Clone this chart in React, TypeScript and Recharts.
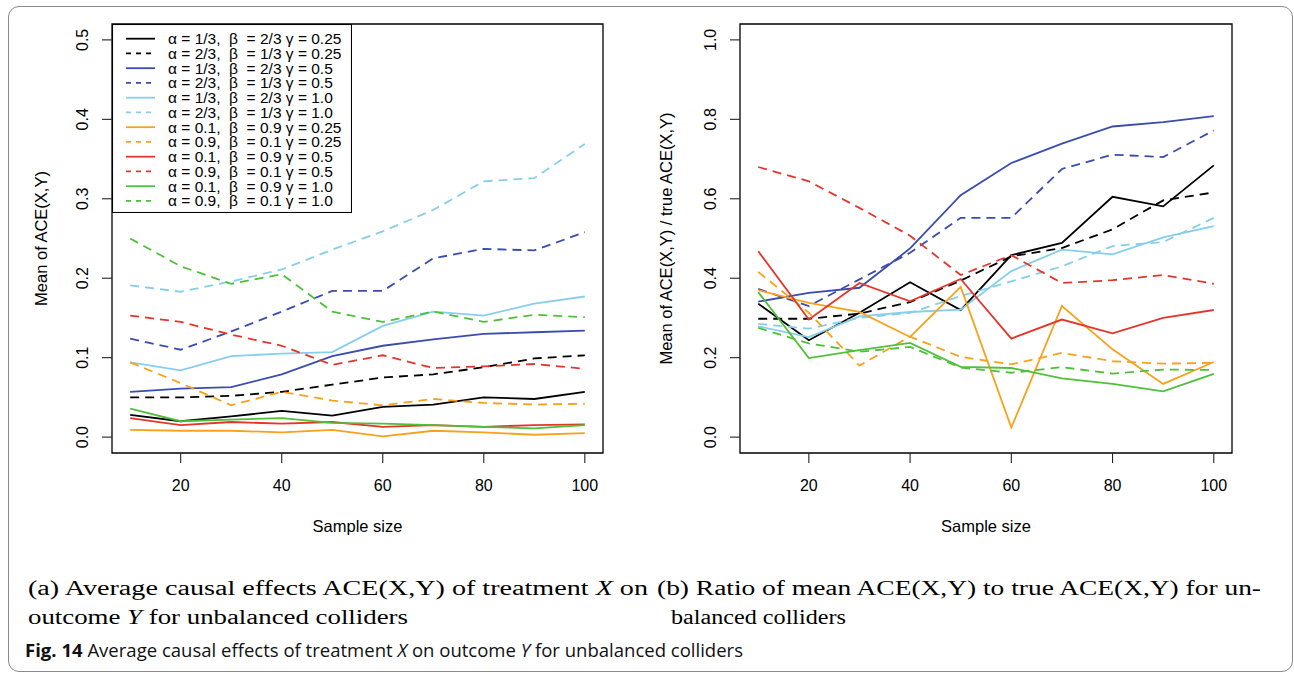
import React from "react";
import { LineChart, Line, XAxis, YAxis, Legend, ReferenceArea, Label } from "recharts";

// sample sizes on the x axis
const sampleSize = [10, 20, 30, 40, 50, 60, 70, 80, 90, 100];
const xTicks = [20, 40, 60, 80, 100];

const seriesLabels = [
  "α = 1/3,  β  = 2/3 γ = 0.25",
  "α = 2/3,  β  = 1/3 γ = 0.25",
  "α = 1/3,  β  = 2/3 γ = 0.5",
  "α = 2/3,  β  = 1/3 γ = 0.5",
  "α = 1/3,  β  = 2/3 γ = 1.0",
  "α = 2/3,  β  = 1/3 γ = 1.0",
  "α = 0.1,  β  = 0.9 γ = 0.25",
  "α = 0.9,  β  = 0.1 γ = 0.25",
  "α = 0.1,  β  = 0.9 γ = 0.5",
  "α = 0.9,  β  = 0.1 γ = 0.5",
  "α = 0.1,  β  = 0.9 γ = 1.0",
  "α = 0.9,  β  = 0.1 γ = 1.0",
];

// (a) mean ACE(X,Y)
const aceA13G025 = [0.028, 0.02, 0.026, 0.033, 0.027, 0.038, 0.041, 0.05, 0.048, 0.057];
const aceA23G025 = [0.05, 0.05, 0.052, 0.057, 0.066, 0.075, 0.079, 0.088, 0.099, 0.103];
const aceA13G05 = [0.057, 0.061, 0.063, 0.079, 0.102, 0.115, 0.123, 0.13, 0.132, 0.134];
const aceA23G05 = [0.124, 0.11, 0.133, 0.158, 0.184, 0.184, 0.225, 0.237, 0.235, 0.258];
const aceA13G1 = [0.094, 0.084, 0.102, 0.105, 0.107, 0.14, 0.158, 0.153, 0.168, 0.177];
const aceA23G1 = [0.191, 0.183, 0.196, 0.211, 0.236, 0.259, 0.286, 0.322, 0.326, 0.369];
const aceA01G025 = [0.009, 0.008, 0.008, 0.006, 0.009, 0.001, 0.008, 0.006, 0.003, 0.005];
const aceA09G025 = [0.094, 0.068, 0.04, 0.057, 0.046, 0.04, 0.048, 0.043, 0.041, 0.042];
const aceA01G05 = [0.024, 0.015, 0.019, 0.017, 0.019, 0.013, 0.015, 0.013, 0.015, 0.016];
const aceA09G05 = [0.153, 0.145, 0.129, 0.115, 0.091, 0.103, 0.087, 0.089, 0.092, 0.086];
const aceA01G1 = [0.036, 0.02, 0.022, 0.024, 0.018, 0.017, 0.015, 0.013, 0.011, 0.015];
const aceA09G1 = [0.25, 0.215, 0.193, 0.205, 0.158, 0.145, 0.158, 0.145, 0.154, 0.151];

// (b) mean ACE(X,Y) / true ACE(X,Y)
const ratioA13G025 = [0.336, 0.244, 0.313, 0.39, 0.32, 0.458, 0.489, 0.605, 0.581, 0.684];
const ratioA23G025 = [0.298, 0.298, 0.311, 0.34, 0.394, 0.455, 0.476, 0.523, 0.596, 0.616];
const ratioA13G05 = [0.341, 0.363, 0.376, 0.475, 0.609, 0.69, 0.739, 0.782, 0.793, 0.808];
const ratioA23G05 = [0.373, 0.33, 0.397, 0.464, 0.552, 0.552, 0.675, 0.711, 0.705, 0.772];
const ratioA13G1 = [0.279, 0.252, 0.304, 0.315, 0.321, 0.418, 0.472, 0.46, 0.503, 0.531];
const ratioA23G1 = [0.285, 0.273, 0.3, 0.313, 0.355, 0.392, 0.43, 0.481, 0.491, 0.552];
const ratioA01G025 = [0.37, 0.338, 0.315, 0.252, 0.378, 0.024, 0.33, 0.221, 0.134, 0.189];
const ratioA09G025 = [0.416, 0.313, 0.18, 0.253, 0.202, 0.183, 0.212, 0.191, 0.185, 0.187];
const ratioA01G05 = [0.468, 0.296, 0.388, 0.342, 0.398, 0.248, 0.296, 0.261, 0.3, 0.32];
const ratioA09G05 = [0.68, 0.644, 0.577, 0.507, 0.408, 0.458, 0.388, 0.395, 0.408, 0.386];
const ratioA01G1 = [0.365, 0.199, 0.219, 0.237, 0.177, 0.174, 0.148, 0.134, 0.115, 0.159];
const ratioA09G1 = [0.275, 0.236, 0.215, 0.227, 0.175, 0.162, 0.176, 0.16, 0.17, 0.169];

const aceTicks = [0, 0.1, 0.2, 0.3, 0.4, 0.5];
const ratioTicks = [0, 0.2, 0.4, 0.6, 0.8, 1.0];

const SANS = "'Liberation Sans', Arial, Helvetica, sans-serif";
const SERIF = "'Liberation Serif', 'Times New Roman', serif";
const CAPTION = "'Open Sans', 'Noto Sans', sans-serif";

const BLUE = "#3a4cad";
const SKY = "#87ceeb";
const ORANGE = "#f9a11b";
const RED = "#e4352b";
const GREEN = "#4fc03a";

const lineStyles = [
  { color: "#000", dashed: false },
  { color: "#000", dashed: true },
  { color: BLUE, dashed: false },
  { color: BLUE, dashed: true },
  { color: SKY, dashed: false },
  { color: SKY, dashed: true },
  { color: ORANGE, dashed: false },
  { color: ORANGE, dashed: true },
  { color: RED, dashed: false },
  { color: RED, dashed: true },
  { color: GREEN, dashed: false },
  { color: GREEN, dashed: true },
];

const keys = seriesLabels.map((_, i) => `s${i}`);

function buildRows(series: number[][]) {
  return sampleSize.map((n, i) => {
    const row: Record<string, number> = { n };
    series.forEach((vals, j) => { row[keys[j]] = vals[i]; });
    return row;
  });
}

const aceRows = buildRows([
  aceA13G025, aceA23G025, aceA13G05, aceA23G05, aceA13G1, aceA23G1,
  aceA01G025, aceA09G025, aceA01G05, aceA09G05, aceA01G1, aceA09G1,
]);
const ratioRows = buildRows([
  ratioA13G025, ratioA23G025, ratioA13G05, ratioA23G05, ratioA13G1, ratioA23G1,
  ratioA01G025, ratioA09G025, ratioA01G05, ratioA09G05, ratioA01G1, ratioA09G1,
]);

const XTick = (p: any) => (
  <text x={p.x} y={p.y} dy={26} textAnchor="middle" fontFamily={SANS} fontSize={16} fill="#000">
    {p.payload.value}
  </text>
);

const YTick = (p: any) => {
  const x = p.x - 11.5;
  return (
    <text x={x} y={p.y} transform={`rotate(-90, ${x}, ${p.y})`} textAnchor="middle"
      fontFamily={SANS} fontSize={16} fill="#000">
      {Number(p.payload.value).toFixed(1)}
    </text>
  );
};

const renderLegend = () => (
  <svg width={240} height={189} style={{ display: "block" }}>
    <rect x={0.5} y={0.5} width={239} height={188} fill="#fff" stroke="#000" strokeWidth={1.1} />
    {seriesLabels.map((label, i) => {
      const cy = 14.7 + 14.75 * i;
      const st = lineStyles[i];
      return (
        <g key={label}>
          <line x1={14} x2={43} y1={cy} y2={cy} stroke={st.color} strokeWidth={1.8}
            strokeDasharray={st.dashed ? "5 5" : undefined} />
          <text x={56} y={cy + 5.4} fontFamily={SANS} fontSize={15.5} fill="#000" style={{ whiteSpace: "pre" }}>
            {label}
          </text>
        </g>
      );
    })}
  </svg>
);

interface PanelProps {
  rows: Record<string, number>[];
  width: number;
  right: number;
  yWidth: number;
  yDomain: [number, number];
  yTicks: number[];
  yTitle: string;
  yTitleX: number;
  legend?: boolean;
}

function Panel({ rows, width, right, yWidth, yDomain, yTicks, yTitle, yTitleX, legend }: PanelProps) {
  return (
    <LineChart width={width} height={560} data={rows} margin={{ top: 24, right, bottom: 0, left: 0 }}>
      <XAxis dataKey="n" type="number" domain={[6.4, 103.6]} ticks={xTicks} interval={0}
        axisLine={false} tickSize={10} tickLine={{ stroke: "#222", strokeWidth: 1.1 }}
        tick={(p: any) => <XTick {...p} />} height={107} allowDataOverflow>
        <Label content={(p: any) => {
          const vb = p.viewBox;
          return (
            <text x={vb.x + vb.width / 2} y={vb.y + 78.5} textAnchor="middle" fontFamily={SANS} fontSize={16.5} fill="#000">
              Sample size
            </text>
          );
        }} />
      </XAxis>
      <YAxis type="number" domain={yDomain} ticks={yTicks} interval={0} width={yWidth}
        axisLine={false} tickSize={10} tickLine={{ stroke: "#222", strokeWidth: 1.1 }}
        tick={(p: any) => <YTick {...p} />} allowDataOverflow>
        <Label content={(p: any) => {
          const vb = p.viewBox;
          const x = vb.x + yTitleX;
          const y = vb.y + vb.height / 2;
          return (
            <text x={x} y={y} transform={`rotate(-90, ${x}, ${y})`} textAnchor="middle"
              fontFamily={SANS} fontSize={16.5} fill="#000">
              {yTitle}
            </text>
          );
        }} />
      </YAxis>
      <ReferenceArea x1={6.4} x2={103.6} y1={yDomain[0]} y2={yDomain[1]} fill="none" fillOpacity={0}
        stroke="#000" strokeWidth={1.3} ifOverflow="visible" />
      {keys.map((k, i) => (
        <Line key={k} dataKey={k} name={seriesLabels[i]} type="linear" stroke={lineStyles[i].color}
          strokeWidth={1.8} strokeDasharray={lineStyles[i].dashed ? "9 6" : undefined}
          dot={false} activeDot={false} isAnimationActive={false} />
      ))}
      {legend && (
        <Legend layout="horizontal" verticalAlign="middle" align="center" content={renderLegend}
          wrapperStyle={{ left: 112, top: 24, width: 240, height: 189 }} />
      )}
    </LineChart>
  );
}

export default function App() {
  return (
    <div style={{ position: "absolute", left: 0, top: 0, width: 1294, height: 676, background: "#fff", overflow: "hidden" }}>
      <div style={{
        position: "absolute", left: 8, top: 6, width: 1285, height: 666, boxSizing: "border-box",
        border: "1.3px solid #8a8a8a", borderRadius: 11,
      }} />
      <div style={{ position: "absolute", left: 0, top: 0 }}>
        <Panel rows={aceRows} width={640} right={37} yWidth={112} yDomain={[-0.02, 0.52]}
          yTicks={aceTicks} yTitle="Mean of ACE(X,Y)" yTitleX={46.5} legend />
      </div>
      <div style={{ position: "absolute", left: 640, top: 0 }}>
        <Panel rows={ratioRows} width={654} right={62} yWidth={100} yDomain={[-0.04, 1.04]}
          yTicks={ratioTicks} yTitle="Mean of ACE(X,Y) / true ACE(X,Y)" yTitleX={32} />
      </div>
      <svg width={1294} height={676} style={{ position: "absolute", left: 0, top: 0, pointerEvents: "none" }}>
        <g fontFamily={SERIF} fontSize={20} fill="#000">
          <text x={28} y={595} textLength={620} lengthAdjust="spacingAndGlyphs">
            (a) Average causal effects ACE(X,Y) of treatment <tspan fontStyle="italic">X</tspan> on
          </text>
          <text x={28} y={623.5} textLength={380} lengthAdjust="spacingAndGlyphs">
            outcome <tspan fontStyle="italic">Y</tspan> for unbalanced colliders
          </text>
          <text x={657} y={595} textLength={604} lengthAdjust="spacingAndGlyphs">
            (b) Ratio of mean ACE(X,Y) to true ACE(X,Y) for un-
          </text>
          <text x={671} y={623.5} textLength={175} lengthAdjust="spacingAndGlyphs">
            balanced colliders
          </text>
        </g>
        <text x={25} y={657} fontFamily={CAPTION} fontSize={18.5} fill="#111" textLength={718} lengthAdjust="spacingAndGlyphs">
          <tspan fontWeight="bold">Fig. 14</tspan> Average causal effects of treatment <tspan fontStyle="italic">X</tspan> on
          outcome <tspan fontStyle="italic">Y</tspan> for unbalanced colliders
        </text>
      </svg>
    </div>
  );
}
